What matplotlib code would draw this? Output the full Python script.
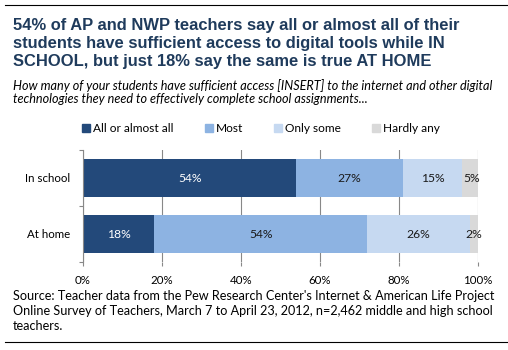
import matplotlib.pyplot as plt
from matplotlib.patches import Rectangle
from matplotlib.lines import Line2D

categories = ['In school', 'At home']
series = ['All or almost all', 'Most', 'Only some', 'Hardly any']
values = {
    'All or almost all': [54, 18],
    'Most': [27, 54],
    'Only some': [15, 26],
    'Hardly any': [5, 2],
}
colors = ['#23497A', '#8DB3E2', '#C6D9F1', '#D9D9D9']
label_colors = ['white', '#1a1a1a', '#1a1a1a', '#1a1a1a']
xticks = [0, 20, 40, 60, 80, 100]

title = ("54% of AP and NWP teachers say all or almost all of their\n"
         "students have sufficient access to digital tools while IN\n"
         "SCHOOL, but just 18% say the same is true AT HOME")
subtitle = ("How many of your students have sufficient access [INSERT] to the internet and other digital\n"
            "technologies they need to effectively complete school assignments...")
source = ("Source: Teacher data from the Pew Research Center's Internet & American Life Project\n"
          "Online Survey of Teachers, March 7 to April 23, 2012, n=2,462 middle and high school\n"
          "teachers.")

W, H = 508, 350
fig = plt.figure(figsize=(W / 100, H / 100), dpi=100)

body = 'Lato'

# top and bottom rules
fig.add_artist(Line2D([5 / W, 1], [1 - 5 / H, 1 - 5 / H], color='black', lw=0.8))
fig.add_artist(Line2D([5 / W, 1], [1 - 342 / H, 1 - 342 / H], color='black', lw=0.8))

fig.text(13 / W, 1 - 18 / H, title, ha='left', va='top', fontsize=11.9,
         fontweight='bold', color='#1F3B5C', family='Liberation Sans', linespacing=1.27)
fig.text(13 / W, 1 - 79 / H, subtitle, ha='left', va='top', fontsize=9.1,
         style='italic', color='black', family=body, linespacing=1.12)
fig.text(13 / W, 1 - 290 / H, source, ha='left', va='top', fontsize=9.1,
         color='black', family=body, linespacing=1.28)

ax = fig.add_axes([83 / W, 1 - 262 / H, 395 / W, 112 / H])
ypos = [0.5, 1.5]
left = [0, 0]
for i, s in enumerate(series):
    v = values[s]
    ax.barh(ypos, v, left=left, height=0.68, color=colors[i], zorder=2)
    for j in range(len(categories)):
        ax.text(left[j] + v[j] / 2, ypos[j], f'{v[j]}%', ha='center', va='center',
                fontsize=8.7, color=label_colors[i], family=body, zorder=3)
    left = [left[j] + v[j] for j in range(len(categories))]

ax.set_xlim(0, 100)
ax.set_ylim(2, 0)
ax.set_xticks(xticks)
ax.set_xticklabels([f'{t}%' for t in xticks], family=body, fontsize=8.3)
ax.set_yticks([0, 1, 2])
ax.set_yticklabels([])
ax.set_yticks(ypos, minor=True)
ax.set_yticklabels(categories, minor=True, family=body, fontsize=8.3)
ax.tick_params(axis='y', which='minor', length=0, pad=9.5)
ax.tick_params(axis='y', which='major', length=3, color='#888888', width=0.8)
ax.tick_params(axis='x', length=3, color='#888888', width=0.8, pad=6.5)
ax.grid(axis='x', color='#888888', lw=0.8, zorder=0)
for sp in ['top', 'right', 'bottom']:
    ax.spines[sp].set_visible(False)
ax.spines['left'].set_color('#888888')
ax.spines['left'].set_linewidth(0.8)

# legend
handles = [Rectangle((0, 0), 1, 1, color=c) for c in colors]
fig.legend(handles, series, loc='center left', bbox_to_anchor=(82 / W, 1 - 129 / H),
           ncol=4, frameon=False, prop={'family': body, 'size': 8.6},
           handlelength=0.68, handleheight=0.68, handletextpad=0.25, columnspacing=2.6,
           borderaxespad=0, borderpad=0)

fig.savefig('out.png', dpi=100)
